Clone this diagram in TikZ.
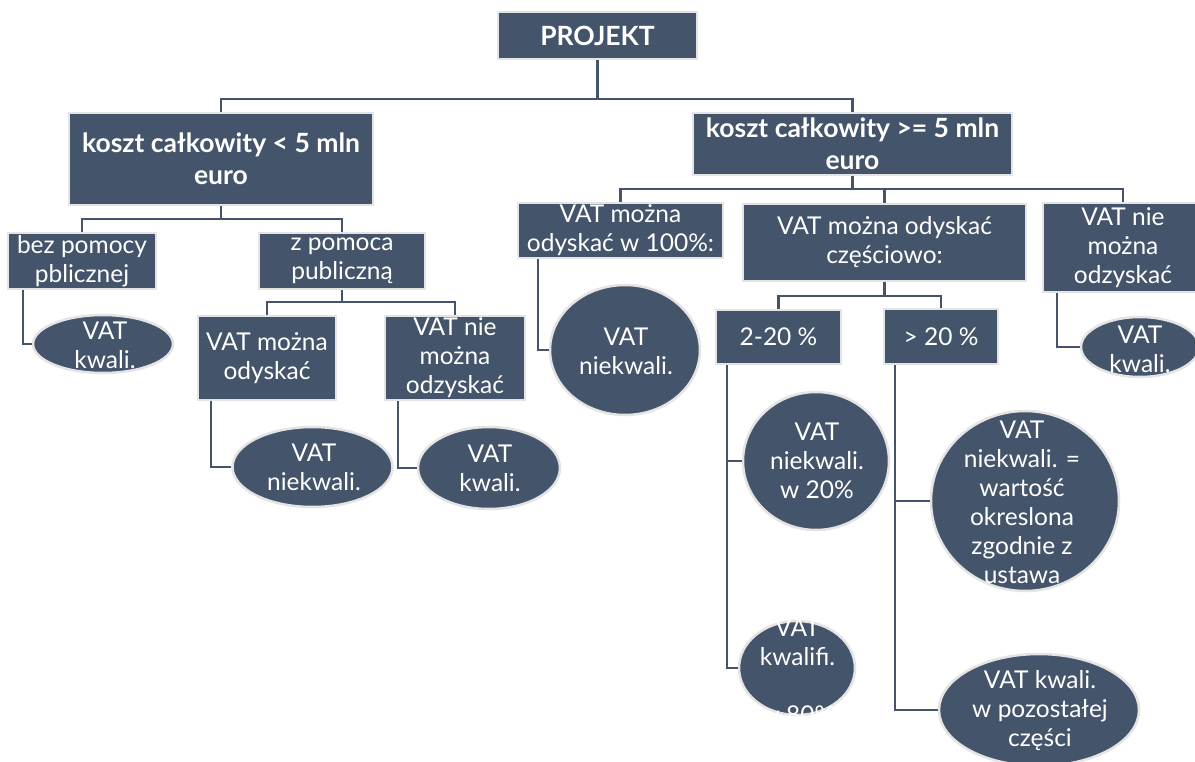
\documentclass[tikz,border=0pt]{standalone}
\usepackage{fontspec}
\setmainfont{Lato}
\usetikzlibrary{shapes.geometric}
\definecolor{boxfill}{HTML}{44546A}
\definecolor{boxedge}{HTML}{E4E4E4}
\tikzset{
  box/.style={rectangle, fill=boxfill, draw=boxedge, line width=2.5pt, text=white,
    align=center, inner sep=0pt, font=\fontsize{24.5}{29}\selectfont},
  hbox/.style={box, font=\bfseries\fontsize{26.5}{32.5}\selectfont},
  ell/.style={ellipse, fill=boxfill, draw=boxedge, line width=2.5pt, inner sep=0pt},
  etxt/.style={text=white, align=center, inner sep=0pt, font=\fontsize{24.5}{29}\selectfont},
  conn/.style={draw=boxfill, line width=2.5pt},
}
\begin{document}
\begin{tikzpicture}[x=1pt,y=-1pt]
\useasboundingbox[fill=white] (0,0) rectangle (1195,762);
% boxes
\node[hbox, minimum width=199pt, minimum height=47pt] (projekt) at (597.5,35.5) {PROJEKT};
\node[hbox, minimum width=304pt, minimum height=92pt] (k1) at (221,159) {koszt całkowity < 5 mln\\euro};
\node[hbox, minimum width=319pt, minimum height=62pt] (k2) at (852.5,144) {koszt całkowity >= 5 mln\\euro};
\node[box, minimum width=148pt, minimum height=56pt] (bez) at (82,261) {bez pomocy\\pblicznej};
\node[box, minimum width=166pt, minimum height=56pt] (zpom) at (342,261) {z pomoca\\publiczną};
\node[box, minimum width=138pt, minimum height=84pt] (mozna) at (267,358) {VAT można\\odyskać};
\node[box, minimum width=140pt, minimum height=84pt] (niemozna) at (455,358) {VAT nie\\można\\odzyskać};
\node[box, minimum width=205pt, minimum height=55pt] (sto) at (620.5,230.5) {VAT można\\odyskać w 100\%:};
\node[box, minimum width=283pt, minimum height=77pt] (czesc) at (884.5,242.5) {VAT można odyskać\\częściowo:};
\node[box, minimum width=160pt, minimum height=89pt] (nie2) at (1123,247.5) {VAT nie\\można\\odzyskać};
\node[box, minimum width=125pt, minimum height=54pt] (p220) at (778.5,337) {2-20 \%};
\node[box, minimum width=114pt, minimum height=55pt] (p20) at (941,336.5) {> 20 \%};
% ellipses
\node[ell, minimum width=140pt, minimum height=58pt] (e1) at (103,344) {};
\node[etxt] (e1t) at (105,345) {VAT\\kwali.};
\node[ell, minimum width=160pt, minimum height=80pt] (e2) at (312.5,467) {};
\node[etxt] (e2t) at (314,467.5) {VAT\\niekwali.};
\node[ell, minimum width=142pt, minimum height=82pt] (e3) at (489,468) {};
\node[etxt] (e3t) at (490,468.5) {VAT\\kwali.};
\node[ell, minimum width=150pt, minimum height=130pt] (e4) at (625,350) {};
\node[etxt] (e4t) at (626,351) {VAT\\niekwali.};
\node[ell, minimum width=146pt, minimum height=138pt] (e5) at (816,461) {};
\node[etxt] (e5t) at (817,461) {VAT\\niekwali.\\w 20\%};
\node[ell, minimum width=116pt, minimum height=94pt] (e6) at (797,668) {};
\node[etxt] (e6t) at (797.5,671) {VAT\\kwalifi.\\\mbox{}\\w 80\%};
\node[ell, minimum width=188pt, minimum height=180pt] (e7) at (1025,501) {};
\node[etxt] (e7t) at (1022,502) {VAT\\niekwali. =\\wartość\\okreslona\\zgodnie z\\ustawa};
\node[ell, minimum width=200pt, minimum height=112pt] (e8) at (1039,710) {};
\node[etxt] (e8t) at (1040,711) {VAT kwali.\\w pozostałej\\części};
\node[ell, minimum width=118pt, minimum height=60pt] (e9) at (1140,347) {};
\node[etxt] (e9t) at (1140,349) {VAT\\kwali.};
% bus points
\coordinate (b0) at (597.5,99);
\coordinate (b1) at (221,219);
\coordinate (b2) at (342,302);
\coordinate (b3) at (852.5,189);
\coordinate (b4) at (884.5,296);
% connectors
\draw[conn] (projekt.south) -- (b0);
\draw[conn] (b0) -| (k1.north);
\draw[conn] (b0) -| (k2.north);
\draw[conn] (k1.south) -- (b1);
\draw[conn] (b1) -| (bez.north);
\draw[conn] (b1) -| (zpom.north);
\draw[conn] (zpom.south) -- (b2);
\draw[conn] (b2) -| (mozna.north);
\draw[conn] (b2) -| (niemozna.north);
\draw[conn] (k2.south) -- (b3);
\draw[conn] (b3) -| (sto.north);
\draw[conn] (b3) -| (czesc.north);
\draw[conn] (b3) -| (nie2.north);
\draw[conn] (czesc.south) -- (b4);
\draw[conn] (b4) -| (p220.north);
\draw[conn] (b4) -| (p20.north);
\draw[conn] ([xshift=16pt]bez.south west) |- (e1.west);
\draw[conn] ([xshift=14pt]mozna.south west) |- (e2.west);
\draw[conn] ([xshift=14pt]niemozna.south west) |- (e3.west);
\draw[conn] ([xshift=21pt]sto.south west) |- (e4.west);
\draw[conn] ([xshift=12pt]p220.south west) |- (e5.west);
\draw[conn] ([xshift=12pt]p220.south west) |- (e6.west);
\draw[conn] ([xshift=12pt]p20.south west) |- (e7.west);
\draw[conn] ([xshift=12pt]p20.south west) |- (e8.west);
\draw[conn] ([xshift=15pt]nie2.south west) |- (e9.west);
\end{tikzpicture}
\end{document}
